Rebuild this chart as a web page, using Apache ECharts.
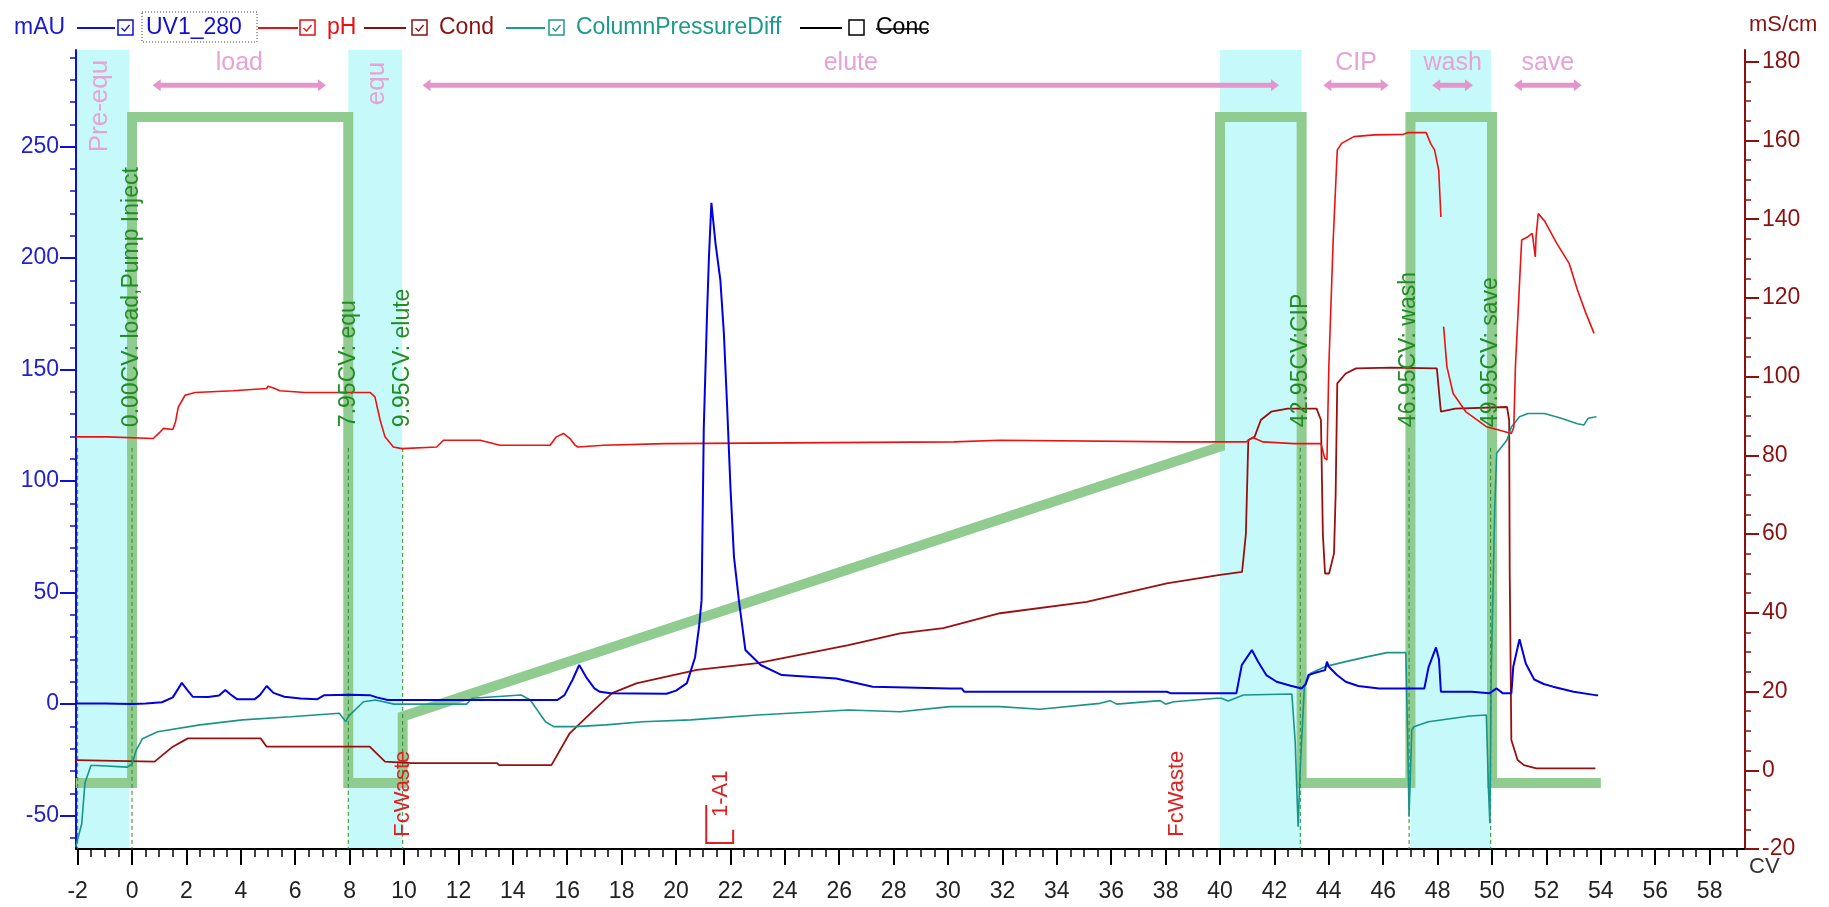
<!DOCTYPE html>
<html><head><meta charset="utf-8">
<script src="https://cdn.jsdelivr.net/npm/echarts@6/dist/echarts.min.js"></script>
<style>html,body{margin:0;padding:0;background:#fff}#c{width:1829px;height:907px}</style>
</head><body><div id="c"></div><script>
// ---------- tick labels ----------
var cvTicks = [-2,0,2,4,6,8,10,12,14,16,18,20,22,24,26,28,30,32,34,36,38,40,42,44,46,48,50,52,54,56,58];
var mauTicks = [-50,0,50,100,150,200,250];
var condTicks = [-20,0,20,40,60,80,100,120,140,160,180];

// ---------- traces [CV, value] ----------
var uvData = [[-2.07,0.3],[-1.0,0.2],[0,0],[0.5,0.3],[1.1,0.8],[1.5,3],[1.83,9.5],[2.05,6],[2.23,3.3],[2.8,3.2],[3.2,3.8],[3.43,6.3],[3.6,4.5],[3.87,2.1],[4.5,2.1],[4.7,4],[4.95,8.1],[5.2,5],[5.6,3.3],[6.2,2.5],[6.8,2.1],[7.07,4.0],[8.0,4.2],[8.74,4.0],[9.0,3],[9.4,1.8],[12,1.8],[15.64,1.8],[15.9,4],[16.2,11],[16.44,17.5],[16.7,12],[17.0,7],[17.2,5.5],[17.6,4.8],[19.65,4.6],[20.0,6],[20.4,9.4],[20.7,21],[20.85,35],[20.94,46.6],[21.02,123.8],[21.14,175],[21.21,200.6],[21.3,224.8],[21.36,224],[21.45,206.7],[21.63,190],[21.76,166],[21.88,133],[22.0,97.4],[22.13,66],[22.31,46.6],[22.55,24.2],[23.11,17.5],[23.89,13],[25.89,11.5],[27.23,7.8],[30.07,7.0],[30.5,7.0],[30.6,5.5],[38.04,5.5],[38.2,4.8],[40.6,4.8],[40.8,17.5],[41.17,24.2],[41.4,19],[41.7,13],[42.08,10],[42.6,8.2],[43.0,7.0],[43.15,9],[43.25,13],[43.5,14],[43.86,15.2],[43.93,19],[44.0,16.7],[44.3,13],[44.62,10],[45.08,8.1],[45.85,7.0],[47.51,7.0],[47.67,16.7],[47.94,25.4],[48.05,20],[48.12,5.5],[49.26,5.5],[49.3,4.8],[49.9,4.8],[50.17,7],[50.4,4.8],[50.71,4.8],[50.78,16.7],[51.01,29.1],[51.24,18.2],[51.55,11],[51.9,9],[52.24,7.8],[53.0,5.5],[53.8,4.0],[53.9,4.0]];
var phData = [[-2.07,7.33],[-0.91,7.33],[-0.9,7.30],[0.78,7.30],[1.0,7.40],[1.15,7.48],[1.5,7.46],[1.6,7.6],[1.70,7.86],[1.95,8.07],[2.32,8.12],[3.72,8.15],[4.95,8.19],[5.0,8.23],[5.2,8.2],[5.44,8.15],[6.36,8.12],[8.75,8.12],[8.93,8.04],[9.12,7.63],[9.3,7.33],[9.61,7.15],[9.92,7.12],[11.2,7.15],[11.45,7.27],[12.8,7.27],[13.53,7.18],[15.37,7.18],[15.6,7.33],[15.86,7.39],[16.1,7.3],[16.29,7.18],[16.4,7.15],[17.33,7.18],[19.6,7.21],[30.2,7.24],[31.9,7.27],[38.53,7.24],[40.96,7.24],[41.2,7.32],[41.58,7.24],[42.72,7.21],[43.71,7.21],[43.85,6.95],[43.93,6.92],[44.0,8.58],[44.16,10.83],[44.31,12.43],[44.47,12.55],[44.92,12.67],[45.68,12.70],[46.74,12.71],[46.9,12.74],[47.58,12.74],[47.74,12.55],[47.89,12.43],[48.04,12.07],[48.12,11.24],[48.17,null],[48.22,9.29],[48.34,8.58],[48.57,8.10],[49.03,7.78],[49.79,7.51],[50.25,7.45],[50.71,7.39],[50.8,7.5],[50.86,8.58],[51.01,10.06],[51.09,10.83],[51.32,10.89],[51.48,10.95],[51.59,10.53],[51.62,10.9],[51.7,11.30],[51.93,11.17],[52.38,10.77],[52.84,10.41],[53.14,9.94],[53.45,9.53],[53.75,9.17]];
var condData = [[-2.07,2.6],[0.83,2.2],[1.5,6.0],[2.05,8.1],[4.73,8.1],[4.95,6.0],[8.74,6.0],[9.3,2.2],[10.3,1.8],[13.42,1.8],[13.5,1.3],[15.42,1.3],[16.09,9.4],[16.98,15.3],[17.65,19.6],[18.54,22.1],[19.65,23.8],[20.77,25.5],[23.0,27.2],[26.34,31.8],[28.24,34.8],[29.83,36.1],[31.91,39.9],[35.1,42.8],[38.04,47.5],[39.94,49.6],[40.81,50.4],[40.95,60],[41.04,83.9],[41.27,84.7],[41.5,89],[41.88,91.1],[42.49,91.9],[43.55,91.9],[43.71,89],[43.78,60],[43.86,50],[44.01,50],[44.19,55.1],[44.25,70],[44.31,98.3],[44.62,100.8],[45.0,102.1],[46.29,102.3],[46.35,102.7],[47.97,102.1],[48.12,91.1],[48.65,91.9],[50.55,92.3],[50.63,89],[50.65,50],[50.71,7.7],[50.94,2.6],[51.17,1.3],[51.63,0.5],[53.8,0.5]];
var pressData = [[-2.07,0.0015],[-1.85,0.016],[-1.73,0.042],[-1.51,0.053],[-1.3,0.053],[-0.17,0.052],[0.0,0.054],[0.16,0.063],[0.38,0.070],[0.94,0.0745],[2.5,0.0788],[4.06,0.082],[5.84,0.084],[7.62,0.0862],[7.85,0.081],[8.0,0.085],[8.51,0.0935],[8.96,0.0946],[9.63,0.092],[12.3,0.092],[12.5,0.0957],[14.31,0.0978],[14.64,0.0946],[15.2,0.0808],[15.5,0.0777],[16.3,0.0777],[17.43,0.0788],[18.77,0.0808],[20.54,0.082],[23.0,0.0851],[26.34,0.0883],[28.24,0.0872],[30.07,0.0904],[31.91,0.0904],[33.38,0.0887],[35.59,0.0925],[35.96,0.0942],[36.2,0.0920],[37.8,0.0942],[38.0,0.092],[38.3,0.0935],[39.88,0.0957],[40.05,0.0957],[40.3,0.094],[40.86,0.0978],[42.64,0.0984],[42.76,0.069],[42.87,0.0142],[42.94,0.048],[43.1,0.103],[43.33,0.1116],[43.86,0.1158],[44.62,0.119],[45.39,0.122],[46.14,0.1247],[46.83,0.1247],[46.9,0.069],[46.95,0.0205],[47.05,0.0756],[47.13,0.0777],[47.66,0.0808],[49.18,0.0845],[49.79,0.0851],[49.87,0.0375],[49.92,0.0163],[49.97,0.1116],[50.1,0.2174],[50.17,0.2513],[50.55,0.2597],[50.71,0.268],[51.01,0.2745],[51.32,0.2766],[51.93,0.2766],[52.54,0.2735],[53.14,0.270],[53.38,0.2693],[53.53,0.2735],[53.84,0.2745]];
var concData = [[-2.07,0],[0,0],[0,100],[7.95,100],[7.95,0],[9.95,0],[9.95,10],[40,50.5],[40,100],[43,100],[43,0],[47,0],[47,100],[50,100],[50,0],[54,0]];

// ---------- annotations ----------
var bandRanges = [[-2.06,-0.1],[7.95,9.93],[40.0,43.0],[47.0,49.96]];
var markerPos = [-2, 0, 7.95, 9.95, 42.95, 46.95, 49.95];
var markerText = ['', '0.00CV: load,Pump Inject', '7.95CV: equ', '9.95CV: elute', '42.95CV:CIP', '46.95CV: wash', '49.95CV: save'];
var phaseArrows = [[0.76,7.13],[10.68,42.17],[43.8,46.2],[47.8,49.3],[50.8,53.3]];
var phaseNames = ['load','elute','CIP','wash','save'];
var bandNames = [[-1.18,'Pre-equ',87.2],[9.0,'equ',93.1]];
var fracLabels = [[9.96,'FcWaste',1.54],[38.41,'FcWaste',1.54],[21.66,'1-A1',4.0]];
var fracBracket = [[21.11,22.1]];

var legendNames = ['UV1_280','pH','Cond','ColumnPressureDiff','Conc'];
var legendColors = ['#1010d0','#e81010','#8b1010','#1a9a8a','#000000'];
var legendChecked = [true,true,true,true,false];

function minors(a, b, step, majors) {
  var out = [];
  for (var v = a; v <= b + 1e-9; v += step) {
    var r = Math.round(v * 100) / 100;
    if (majors.indexOf(r) < 0) out.push(r);
  }
  return out;
}
var FONT = '"Liberation Sans", Arial, sans-serif';

var chart = echarts.init(document.getElementById('c'));

// legend graphic
var lgLine = [[77,115],[258,298],[364,406],[506,545],[800,842]];
var lgBox = [118,300,412,549,849];
var lgText = [146,327,439,576,876];
var LY = 28;
var graphics = [{type:'text', x:14, y:LY, style:{text:'mAU', fill:'#1a1ad0', fontSize:23, fontFamily:FONT, verticalAlign:'middle', align:'left'}}];
legendNames.forEach(function(n,i){
  var c = legendColors[i];
  graphics.push({type:'line', shape:{x1:lgLine[i][0], y1:LY, x2:lgLine[i][1], y2:LY}, style:{stroke:c, lineWidth:2}});
  graphics.push({type:'rect', shape:{x:lgBox[i], y:LY-8, width:15, height:15}, style:{stroke:c, fill:'#fff', lineWidth:1.5}});
  if (legendChecked[i]) graphics.push({type:'polyline', shape:{points:[[lgBox[i]+3.5,LY],[lgBox[i]+6.5,LY+3],[lgBox[i]+11.5,LY-3]]}, style:{stroke:c, lineWidth:1.3, fill:null}});
  graphics.push({type:'text', x:lgText[i], y:LY, style:{text:n, fill:c, fontSize:23, fontFamily:FONT, verticalAlign:'middle', align:'left'}});
});
graphics.push({type:'rect', shape:{x:142, y:LY-16, width:115, height:30}, style:{stroke:'#444', fill:null, lineWidth:1, lineDash:[1,2]}});
graphics.push({type:'line', shape:{x1:876, y1:LY+1, x2:928, y2:LY+1}, style:{stroke:'#000', lineWidth:1.5}});
graphics.push({type:'text', x:1749, y:25, style:{text:'mS/cm', fill:'#8b1010', fontSize:22, fontFamily:FONT, verticalAlign:'middle', align:'left'}});
graphics.push({type:'text', x:1749, y:867, style:{text:'CV', fill:'#333', fontSize:22, fontFamily:FONT, verticalAlign:'middle', align:'left'}});

var XMIN = -2.06, XMAX = 59.3;
function rotText(api, x, a, text, color, size) {
  var p = api.coord([x, a]);
  return {type:'text', x:p[0], y:p[1], rotation:Math.PI/2,
    style:{text:text, fill:color, fontSize:size, fontFamily:FONT, align:'left', verticalAlign:'middle'}};
}

var option = {
  animation:false,
  backgroundColor:'#fff',
  graphic: graphics,
  grid:{left:76, right:84, top:50, bottom:58},
  xAxis:[
    {type:'value', min:XMIN, max:XMAX, position:'bottom',
      axisLine:{show:true, onZero:false, lineStyle:{color:'#000', width:2}},
      axisTick:{show:true, customValues:cvTicks, length:16, lineStyle:{color:'#000', width:2}},
      axisLabel:{show:true, customValues:cvTicks, margin:31, fontSize:23, color:'#222', fontFamily:FONT},
      splitLine:{show:false}},
    {type:'value', min:XMIN, max:XMAX, position:'bottom', offset:0,
      axisLine:{show:false, onZero:false},
      axisTick:{show:true, customValues:minors(-2,59,0.5,cvTicks), length:8, lineStyle:{color:'#000', width:1.5}},
      axisLabel:{show:false}, splitLine:{show:false}}
  ],
  yAxis:[
    {type:'value', min:-65, max:293.3, position:'left',
      axisLine:{show:true, onZero:false, lineStyle:{color:'#1010d0', width:2}},
      axisTick:{show:true, customValues:mauTicks, length:16, lineStyle:{color:'#1010d0', width:2}},
      axisLabel:{show:true, customValues:mauTicks, margin:17, fontSize:23, color:'#2222cc', fontFamily:FONT},
      splitLine:{show:false}},
    {type:'value', min:-65, max:293.3, position:'left', offset:0,
      axisLine:{show:false, onZero:false},
      axisTick:{show:true, customValues:minors(-60,290,10,mauTicks), length:6, lineStyle:{color:'#1010d0', width:1.5}},
      axisLabel:{show:false}, splitLine:{show:false}},
    {type:'value', min:-20, max:183, position:'right',
      axisLine:{show:true, onZero:false, lineStyle:{color:'#8b1010', width:2}},
      axisTick:{show:true, customValues:condTicks, length:14, lineStyle:{color:'#8b1010', width:2}},
      axisLabel:{show:true, customValues:condTicks, margin:17, fontSize:23, color:'#8b1010', fontFamily:FONT},
      splitLine:{show:false}},
    {type:'value', min:-20, max:183, position:'right', offset:0,
      axisLine:{show:false, onZero:false},
      axisTick:{show:true, customValues:minors(-20,180,5,condTicks), length:6, lineStyle:{color:'#8b1010', width:1.5}},
      axisLabel:{show:false}, splitLine:{show:false}},
    {type:'value', min:0, max:14.21, show:false},
    {type:'value', min:0, max:0.5074, show:false},
    {type:'value', min:-9.91, max:110.06, show:false},
    {type:'value', min:0, max:100, show:false}
  ],
  series:[
    {type:'custom', name:'bands', xAxisIndex:0, yAxisIndex:7, z:0, silent:true, data:bandRanges,
      renderItem:function(params, api){
        var p0 = api.coord([api.value(0), 100]);
        var p1 = api.coord([api.value(1), 0]);
        return {type:'rect', shape:{x:p0[0], y:p0[1], width:p1[0]-p0[0], height:p1[1]-p0[1]}, style:{fill:'#c6fafa'}};
      }},
    {type:'line', name:'Conc', xAxisIndex:0, yAxisIndex:6, z:1, data:concData, showSymbol:false, silent:true,
      lineStyle:{color:'#90cc90', width:10, join:'miter', cap:'butt'}},
    {type:'custom', name:'markers', xAxisIndex:0, yAxisIndex:7, z:2, silent:true, data:markerPos.map(function(x){return [x, 0];}),
      renderItem:function(params, api){
        var x = api.value(0);
        var p0 = api.coord([x, 50.2]), p1 = api.coord([x, 0]);
        return {type:'line', shape:{x1:p0[0], y1:p0[1], x2:p1[0], y2:p1[1]}, style:{stroke:'#2a8a2a', lineWidth:1, lineDash:[4,3]}};
      }},
    {type:'line', name:'Cond', xAxisIndex:0, yAxisIndex:2, z:3, data:condData, showSymbol:false, lineStyle:{color:'#991010', width:1.8}},
    {type:'line', name:'ColumnPressureDiff', xAxisIndex:0, yAxisIndex:5, z:3, data:pressData, showSymbol:false, lineStyle:{color:'#1a9488', width:1.6}},
    {type:'line', name:'pH', xAxisIndex:0, yAxisIndex:4, z:3, data:phData, showSymbol:false, connectNulls:false, lineStyle:{color:'#ee1111', width:1.6}},
    {type:'line', name:'UV1_280', xAxisIndex:0, yAxisIndex:0, z:4, data:uvData, showSymbol:false, lineStyle:{color:'#0000e0', width:2}},
    {type:'custom', name:'markerText', xAxisIndex:0, yAxisIndex:7, z:5, silent:true, data:markerPos.map(function(x){return [x, 52.8];}),
      renderItem:function(params, api){
        return rotText(api, api.value(0), api.value(1), markerText[params.dataIndex], '#238b23', 23);
      }},
    {type:'custom', name:'phases', xAxisIndex:0, yAxisIndex:7, z:5, silent:true, data:phaseArrows,
      renderItem:function(params, api){
        var a = api.coord([api.value(0), 95.6]), b = api.coord([api.value(1), 95.6]);
        var m = api.coord([(api.value(0)+api.value(1))/2, 98.4]);
        var y = a[1], col = '#e495cb';
        return {type:'group', children:[
          {type:'line', shape:{x1:a[0]+4, y1:y, x2:b[0]-4, y2:y}, style:{stroke:col, lineWidth:5}},
          {type:'polygon', shape:{points:[[a[0],y],[a[0]+8,y-6],[a[0]+8,y+6]]}, style:{fill:col}},
          {type:'polygon', shape:{points:[[b[0],y],[b[0]-8,y-6],[b[0]-8,y+6]]}, style:{fill:col}},
          {type:'text', x:m[0], y:m[1], style:{text:phaseNames[params.dataIndex], fill:'#e6a3d6', fontSize:25, fontFamily:FONT, align:'center', verticalAlign:'middle'}}
        ]};
      }},
    {type:'custom', name:'bandNames', xAxisIndex:0, yAxisIndex:7, z:5, silent:true, data:bandNames.map(function(d){return [d[0], d[2]];}),
      renderItem:function(params, api){
        return rotText(api, api.value(0), api.value(1), bandNames[params.dataIndex][1], '#e6a3d6', 26);
      }},
    {type:'custom', name:'fractions', xAxisIndex:0, yAxisIndex:7, z:5, silent:true, data:fracLabels.map(function(d){return [d[0], d[2]];}),
      renderItem:function(params, api){
        return rotText(api, api.value(0), api.value(1), fracLabels[params.dataIndex][1], '#e02020', 22);
      }},
    {type:'custom', name:'bracket', xAxisIndex:0, yAxisIndex:7, z:5, silent:true, data:fracBracket,
      renderItem:function(params, api){
        var l0 = api.coord([api.value(0), 5.5]), l1 = api.coord([api.value(0), 0.75]);
        var r0 = api.coord([api.value(1), 2.4]), r1 = api.coord([api.value(1), 0.75]);
        return {type:'polyline', shape:{points:[l0, l1, r1, r0]}, style:{stroke:'#e02020', lineWidth:2, fill:null}};
      }}
  ]
};
chart.setOption(option);
</script></body></html>
